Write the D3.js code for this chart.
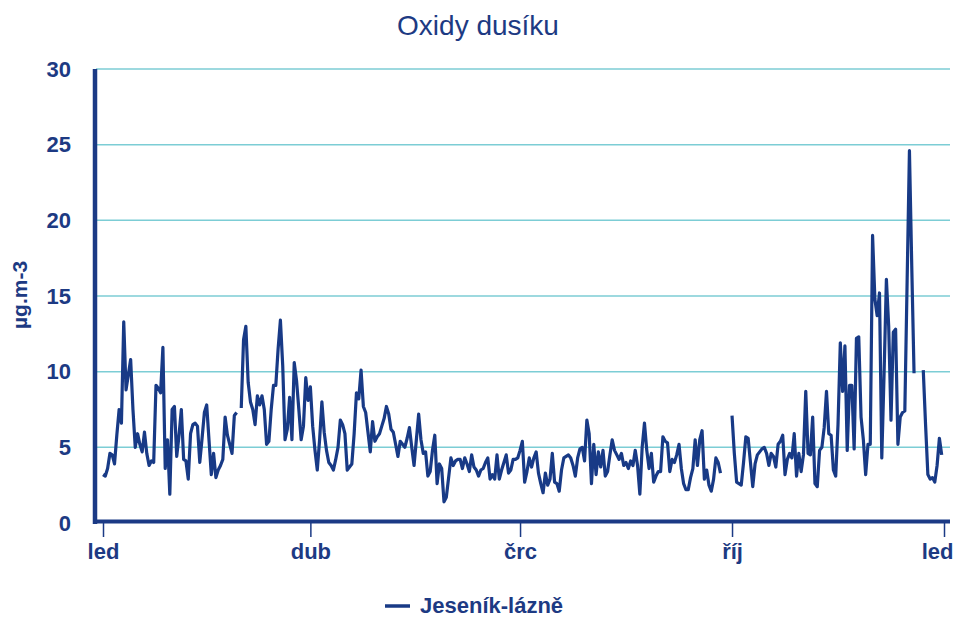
<!DOCTYPE html>
<html lang="cs">
<head>
  <meta charset="UTF-8">
  <title>Oxidy dusíku</title>
  <script src="https://d3js.org/d3.v7.min.js"></script>
  <style>
    body { margin: 0; background: #fff; }
    text { font-family: "Liberation Sans", Arial, sans-serif; fill: #1d3a83; }
    .grid { stroke: #7ccdd5; stroke-width: 1.5; }
    .axis-line { stroke: #1b3a85; }
  </style>
</head>
<body>
  <svg></svg>
  <script>
    const width = 955, height = 619;

    // data
    const yearStart = new Date(2019, 0, 1);
    const yearEnd = new Date(2020, 0, 1);
    const monthTicks = [new Date(2019, 0, 1), new Date(2019, 3, 1), new Date(2019, 6, 1), new Date(2019, 9, 1), new Date(2020, 0, 1)];
    const monthLabels = ["led", "dub", "črc", "říj", "led"];
    const yTicks = [0, 5, 10, 15, 20, 25, 30];
    const seriesName = "Jeseník-lázně";
    // denní hodnoty NOx, null = chybí
    const nox = [
      3.2, 3.1, 3.6, 4.6, 4.5, 3.9, 5.8, 7.5, 6.6, 13.3,
      8.8, 9.8, 10.8, 7.5, 5.0, 5.9, 5.2, 4.7, 6.0, 4.6,
      3.8, 4.1, 4.0, 9.1, 8.9, 8.6, 11.6, 3.6, 5.5, 1.9,
      7.5, 7.7, 4.4, 5.8, 7.5, 4.2, 4.1, 2.9, 5.9, 6.5,
      6.6, 6.4, 4.0, 5.6, 7.3, 7.8, 5.5, 3.2, 4.6, 3.0,
      3.5, 3.8, 4.2, 7.0, 5.8, 5.2, 4.6, 7.1, 7.3, null,
      7.6, 12.1, 13.0, 9.3, 8.0, 7.5, 6.5, 8.4, 7.8, 8.4,
      7.5, 5.2, 5.4, 7.5, 9.1, 9.1, 11.5, 13.4, 10.4, 5.5,
      6.2, 8.3, 5.5, 10.6, 9.4, 7.5, 5.5, 6.4, 9.6, 8.1,
      9.0, 6.4, 4.8, 3.5, 5.5, 8.0, 6.0, 4.8, 4.0, 3.8,
      3.5, 4.2, 5.0, 6.8, 6.5, 5.9, 3.5, 3.7, 3.9, 5.9,
      8.6, 8.2, 10.1, 7.7, 7.3, 6.0, 4.7, 6.7, 5.4, 5.7,
      5.9, 6.4, 6.9, 7.7, 7.2, 6.2, 6.0, 5.2, 4.4, 5.4,
      5.2, 5.0, 5.6, 6.3, 5.0, 3.8, 5.5, 7.2, 5.5, 4.6,
      4.7, 3.1, 3.4, 4.8, 5.8, 2.6, 3.9, 3.6, 1.4, 1.7,
      3.0, 4.3, 3.8, 4.1, 4.2, 4.2, 3.6, 4.3, 3.9, 3.4,
      4.5, 3.7, 3.5, 3.1, 3.5, 3.6, 4.0, 4.3, 2.9, 3.2,
      2.9, 4.5, 2.9, 3.5, 4.0, 4.5, 3.3, 3.5, 4.2, 4.2,
      4.3, 4.8, 5.4, 2.7, 3.4, 4.3, 3.7, 4.3, 4.7, 3.3,
      2.6, 2.0, 3.3, 2.5, 2.9, 4.6, 2.7, 2.6, 2.1, 3.5,
      4.3, 4.4, 4.5, 4.3, 3.8, 3.1, 4.3, 4.9, 5.0, 4.1,
      6.8, 5.9, 2.6, 5.2, 3.2, 4.7, 3.7, 4.8, 3.1, 3.4,
      4.5, 5.5, 4.8, 4.5, 4.2, 4.6, 3.8, 4.0, 3.6, 4.1,
      3.8, 4.8, 3.8, 1.9, 5.0, 6.6, 4.8, 3.6, 4.6, 2.7,
      3.1, 3.4, 3.4, 5.7, 5.4, 5.3, 3.4, 4.2, 4.0, 4.5,
      5.2, 3.6, 2.6, 2.2, 2.2, 3.0, 3.6, 5.5, 3.8, 5.5,
      6.1, 2.9, 3.5, 2.5, 2.1, 2.9, 4.3, 4.0, 3.3, null,
      null, null, null, 7.1, 4.6, 2.7, 2.6, 2.5, 4.0, 5.7,
      5.6, 4.0, 2.4, 3.9, 4.5, 4.7, 4.9, 5.0, 4.6, 3.8,
      4.6, 4.4, 3.7, 5.2, 5.4, 5.8, 3.2, 4.2, 4.6, 4.3,
      5.9, 3.1, 4.6, 3.4, 4.5, 8.7, 4.6, 4.5, 7.0, 2.6,
      2.4, 4.8, 5.0, 6.3, 8.7, 5.9, 5.8, 3.5, 3.1, 6.5,
      11.9, 8.7, 11.7, 4.8, 9.1, 9.1, 4.9, 12.2, 12.3, 7.0,
      5.5, 3.2, 5.2, 5.2, 19.0, 14.8, 13.7, 15.2, 4.3, 9.9,
      16.1, 13.0, 6.8, 12.6, 12.8, 5.2, 7.0, 7.3, 7.4, 16.0,
      24.6, 17.0, 9.9, null, null, null, 10.1, 6.5, 3.2, 2.9,
      3.0, 2.7, 3.8, 5.6, 4.5
    ];

    const data = nox.map((v, i) => ({ date: d3.timeDay.offset(yearStart, i), v: v }));

    const plot = { left: 96, right: 950, top: 69, bottom: 523 };

    const svg = d3.select("svg")
      .attr("width", width)
      .attr("height", height);

    const x = d3.scaleTime()
      .domain([yearStart, yearEnd])
      .range([103, 944]);

    const y = d3.scaleLinear()
      .domain([0, 30])
      .range([plot.bottom, plot.top]);

    // title
    svg.append("text")
      .attr("x", 478)
      .attr("y", 35)
      .attr("text-anchor", "middle")
      .style("font-size", "28px")
      .text("Oxidy dusíku");

    // grid
    svg.append("g")
      .selectAll("line")
      .data(yTicks.filter(d => d > 0))
      .enter().append("line")
      .attr("class", "grid")
      .attr("x1", plot.left)
      .attr("x2", plot.right)
      .attr("y1", d => y(d))
      .attr("y2", d => y(d));

    // y axis
    const yAxis = svg.append("g")
      .attr("transform", `translate(${plot.left}, 0)`)
      .call(d3.axisLeft(y).tickValues(yTicks).tickSize(0).tickPadding(25));
    yAxis.select(".domain").remove();
    yAxis.selectAll("text")
      .style("font-size", "22px")
      .style("font-weight", "bold")
      .attr("fill", null);

    svg.append("line")
      .attr("class", "axis-line")
      .attr("x1", plot.left - 1)
      .attr("x2", plot.left - 1)
      .attr("y1", plot.top)
      .attr("y2", plot.bottom + 1)
      .attr("stroke-width", 4.5);

    svg.append("text")
      .attr("transform", "translate(27, 295) rotate(-90)")
      .attr("text-anchor", "middle")
      .style("font-size", "21px")
      .style("font-weight", "bold")
      .text("µg.m-3");

    // x axis
    const xAxis = svg.append("g")
      .attr("transform", `translate(0, ${plot.bottom})`)
      .call(d3.axisBottom(x)
        .tickValues(monthTicks)
        .tickFormat((d, i) => monthLabels[i])
        .tickSize(14)
        .tickSizeOuter(0)
        .tickPadding(6));
    xAxis.select(".domain").remove();
    xAxis.selectAll(".tick line")
      .attr("stroke", "#1b3a85")
      .attr("stroke-width", 1.5);
    xAxis.selectAll("text")
      .style("font-size", "22px")
      .style("font-weight", "bold")
      .attr("fill", null);
    // last label pulled inside the chart edge
    xAxis.selectAll(".tick text")
      .filter((d, i) => i === monthTicks.length - 1)
      .attr("text-anchor", "end")
      .attr("x", 9);

    svg.append("line")
      .attr("class", "axis-line")
      .attr("x1", plot.left - 3)
      .attr("x2", plot.right)
      .attr("y1", plot.bottom - 1.5)
      .attr("y2", plot.bottom - 1.5)
      .attr("stroke-width", 4);

    // series
    const line = d3.line()
      .defined(d => d.v != null)
      .x(d => x(d.date))
      .y(d => y(d.v));

    svg.append("path")
      .datum(data)
      .attr("d", line)
      .attr("fill", "none")
      .attr("stroke", "#183a86")
      .attr("stroke-width", 3.2)
      .attr("stroke-linejoin", "round");

    // legend
    const legend = svg.append("g");
    legend.append("line")
      .attr("x1", 385).attr("x2", 410)
      .attr("y1", 606).attr("y2", 606)
      .attr("stroke", "#183a86")
      .attr("stroke-width", 3.5);
    legend.append("text")
      .attr("x", 420)
      .attr("y", 613)
      .style("font-size", "22px")
      .style("font-weight", "bold")
      .text(seriesName);
  </script>
</body>
</html>
